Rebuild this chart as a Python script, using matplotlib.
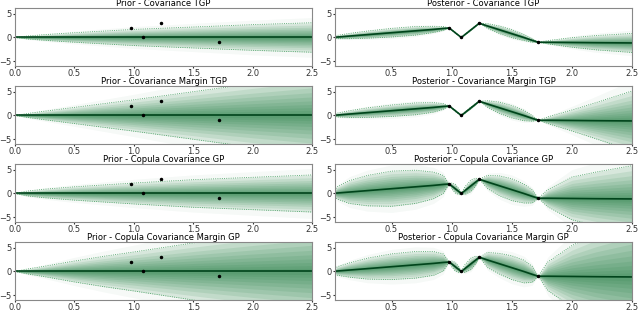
import numpy as np
import matplotlib
matplotlib.use('Agg')
import matplotlib.pyplot as plt

# observations
obs_x = [0.98, 1.08, 1.23, 1.72]
obs_y = [2.0, 0.0, 3.0, -1.0]

titles_prior = ['Prior - Covariance TGP', 'Prior - Covariance Margin TGP',
                'Prior - Copula Covariance GP', 'Prior - Copula Covariance Margin GP']
titles_post = ['Posterior - Covariance TGP', 'Posterior - Covariance Margin TGP',
               'Posterior - Copula Covariance GP', 'Posterior - Copula Covariance Margin GP']

# prior spread (half width of the sample envelope)
prior_x = [0, 0.1, 0.25, 0.5, 0.75, 1.0, 1.5, 2.0, 2.5]
prior_mean = [0, 0, 0, 0, 0, 0, 0, 0, 0]
prior_w1 = [0, 0.3, 0.6, 1.0, 1.35, 1.7, 2.2, 2.7, 3.1]
prior_w2 = [0, 0.4, 0.9, 1.7, 2.5, 3.3, 5.0, 6.7, 8.3]
prior_w3 = [0, 0.5, 0.9, 1.4, 1.8, 2.2, 2.9, 3.4, 3.9]
prior_w4 = [0, 0.5, 1.1, 2.2, 3.2, 4.1, 6.0, 7.8, 9.5]

# posterior mean and spread
post_x = [0, 0.05, 0.15, 0.3, 0.5, 0.7, 0.85, 0.93, 0.98, 1.0, 1.03, 1.06, 1.08,
          1.11, 1.16, 1.2, 1.23, 1.3, 1.4, 1.5, 1.6, 1.67, 1.72, 1.8, 2.0, 2.2, 2.5]
post_mean = [0, 0.1, 0.3, 0.6, 1.0, 1.4, 1.7, 1.9, 2.0, 1.6, 1.0, 0.4, 0.0,
             0.6, 1.6, 2.4, 3.0, 2.4, 1.6, 0.8, 0.0, -0.6, -1.0, -1.0, -1.05, -1.1, -1.15]
post_w1 = [0, 0.35, 0.55, 0.75, 0.9, 0.9, 0.65, 0.4, 0, 0.06, 0.1, 0.06, 0,
           0.06, 0.1, 0.06, 0, 0.5, 0.8, 0.85, 0.65, 0.4, 0, 0.35, 1.0, 1.5, 2.0]
post_w2 = [0, 0.4, 0.7, 1.0, 1.2, 1.25, 1.0, 0.6, 0, 0.1, 0.15, 0.1, 0,
           0.12, 0.18, 0.12, 0, 0.7, 1.2, 1.3, 1.1, 0.6, 0, 0.7, 2.2, 3.8, 6.3]
post_w3 = [0, 1.3, 2.4, 3.2, 3.7, 3.5, 2.8, 1.9, 0, 0.6, 0.9, 0.6, 0,
           0.8, 1.2, 0.8, 0, 1.4, 2.1, 2.3, 2.0, 1.4, 0, 1.8, 4.5, 5.6, 7.0]
post_w4 = [0, 0.9, 1.5, 2.2, 2.7, 2.8, 2.5, 1.8, 0, 0.6, 0.9, 0.6, 0,
           0.8, 1.2, 0.8, 0, 1.6, 2.2, 2.5, 2.4, 1.7, 0, 3.0, 6.5, 9.0, 12.0]

prior_ws = [prior_w1, prior_w2, prior_w3, prior_w4]
post_ws = [post_w1, post_w2, post_w3, post_w4]

fill_col = '#1c7a3c'
line_col = '#00441b'
edge_col = '#3c9a58'
# nested bands, darker towards the mean
levels = [1.35, 1.0, 0.85, 0.7, 0.58, 0.47, 0.37, 0.28, 0.2, 0.13, 0.07]
alphas = [0.04, 0.14, 0.11, 0.11, 0.11, 0.11, 0.11, 0.11, 0.11, 0.11, 0.11]


def draw(ax, x, mean, w, title, xlim, xticks):
    x = np.array(x)
    mean = np.array(mean)
    w = np.array(w)
    for lv, a in zip(levels, alphas):
        ax.fill_between(x, mean - lv * w, mean + lv * w, color=fill_col,
                        alpha=a, linewidth=0)
    ax.plot(x, mean + w, color=edge_col, lw=0.6, ls=':')
    ax.plot(x, mean - w, color=edge_col, lw=0.6, ls=':')
    ax.plot(x, mean, color=line_col, lw=1.2)
    ax.plot(obs_x, obs_y, 'o', color='black', ms=1.5)
    ax.set_xlim(*xlim)
    ax.set_ylim(-6, 6.2)
    ax.set_yticks([-5, 0, 5])
    ax.set_xticks(xticks)
    ax.tick_params(labelsize=6, length=1.5, pad=0.8, colors='#333333')
    for s in ax.spines.values():
        s.set_color('#888888')
        s.set_linewidth(0.8)
    ax.set_title(title, fontsize=6, pad=1)


fig = plt.figure(figsize=(6.4, 3.15), dpi=100)

# axes tops in px, 58 px tall
tops = [8, 86, 164, 242]
height = 58
for i in range(4):
    b = 1 - (tops[i] + height) / 315
    ax_l = fig.add_axes([15 / 640, b, 297 / 640, height / 315])
    draw(ax_l, prior_x, prior_mean, prior_ws[i], titles_prior[i],
         (0, 2.5), [0, 0.5, 1.0, 1.5, 2.0, 2.5])
    ax_r = fig.add_axes([335 / 640, b, 297 / 640, height / 315])
    draw(ax_r, post_x, post_mean, post_ws[i], titles_post[i],
         (0.03, 2.5), [0.5, 1.0, 1.5, 2.0, 2.5])

fig.savefig('out.png', dpi=100)
